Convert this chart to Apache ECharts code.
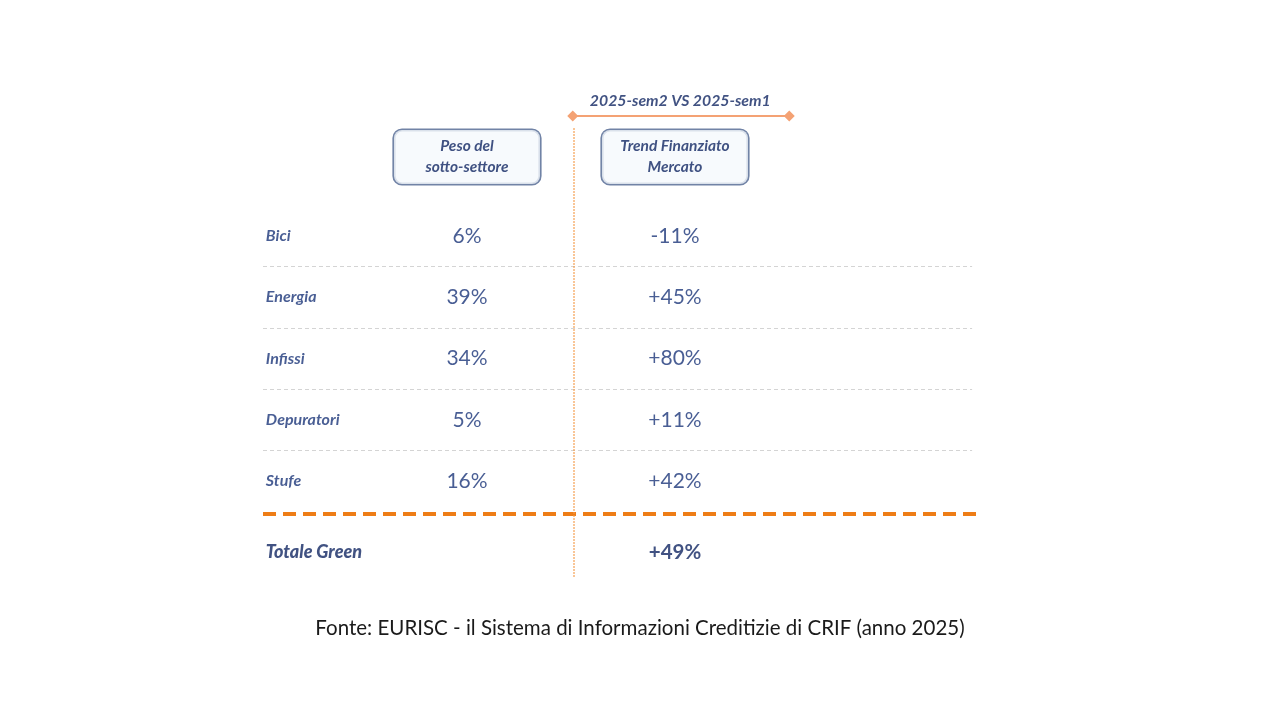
<!DOCTYPE html>
<html>
<head>
<meta charset="utf-8">
<script src="https://cdn.jsdelivr.net/npm/echarts@6/dist/echarts.min.js"></script>
<style>
  html, body { margin: 0; padding: 0; background: #fff; }
  #main { width: 1280px; height: 720px; }
</style>
</head>
<body>
<div id="main"></div>
<script>
// dati della tabella
var sectors = ['Bici', 'Energia', 'Infissi', 'Depuratori', 'Stufe'];
var peso = [6, 39, 34, 5, 16];
var trend = [-11, 45, 80, 11, 42];
var totalLabel = 'Totale Green';
var totalTrend = 49;
var headers = ['Peso del\nsotto-settore', 'Trend Finanziato\nMercato'];
var compareLabel = '2025-sem2 VS 2025-sem1';
var sourceText = 'Fonte: EURISC - il Sistema di Informazioni Creditizie di CRIF (anno 2025)';

// colonne (in % della griglia) e righe speciali
var colLabel = 0.4, colPeso = 28.45, colTrend = 57.46, colDivider = 43.37;
var rowHeader = -1.29, rowCompare = -2.2, rowBracket = -1.96, rowTotal = 5.16, rowOrange = 4.54;

var navy = '#1c3679';
var darkNavy = '#122763';
var font = 'Lato';

function pct(v) { return v + '%'; }
function signed(v) { return (v > 0 ? '+' : '') + v + '%'; }

var myChart = echarts.init(document.getElementById('main'));

var sepLines = [];
for (var i = 0; i < sectors.length - 1; i++) {
    sepLines.push([{ coord: [0, i + 0.5] }, { coord: [98.9, i + 0.5] }]);
}

var option = {
    animation: false,
    title: {
        text: sourceText,
        left: 'center',
        top: 613,
        textStyle: { fontFamily: font, fontSize: 20.5, fontWeight: 'normal', color: '#1a1a1a' }
    },
    grid: { left: 263, right: 300, top: 52.25, bottom: 116.5 },
    xAxis: { type: 'value', min: 0, max: 100, show: false },
    yAxis: { type: 'value', min: -3, max: 6, inverse: true, show: false },
    series: [{
        // linee decorative
        type: 'scatter',
        data: [],
        silent: true,
        markLine: {
            silent: true,
            symbol: 'none',
            label: { show: false },
            data: sepLines.map(function (d) {
                return [Object.assign({}, d[0], { lineStyle: { color: '#d4d4d4', width: 1.2, type: [4, 3] } }), d[1]];
            }).concat([
                [{ coord: [0, rowOrange], lineStyle: { color: '#ee7d16', width: 4, type: [13, 7] } }, { coord: [100, rowOrange] }],
                [{ coord: [colDivider, -1.76], lineStyle: { color: '#f49a48', width: 1.5, type: 'dotted' } }, { coord: [colDivider, 5.58] }]
            ])
        }
    }, {
        type: 'scatter',
        data: [],
        silent: true,
        markLine: {
            silent: true,
            symbol: ['diamond', 'diamond'],
            symbolSize: 11,
            label: { show: false },
            lineStyle: { color: '#f4a274', width: 2, type: 'solid' },
            itemStyle: { color: '#f08a5a' },
            data: [[{ coord: [43.2, rowBracket] }, { coord: [73.4, rowBracket] }]]
        }
    }, {
        // etichette settori
        type: 'scatter',
        symbolSize: 0,
        silent: true,
        data: sectors.map(function (s, i) { return [colLabel, i, s]; }),
        label: {
            show: true, position: 'right', distance: 0,
            formatter: function (p) { return p.value[2]; },
            fontFamily: font, fontStyle: 'italic', fontWeight: 'bold', fontSize: 16, color: navy
        }
    }, {
        type: 'scatter',
        symbolSize: 0,
        silent: true,
        data: peso.map(function (v, i) { return [colPeso, i, v]; }),
        label: {
            show: true, position: 'inside',
            formatter: function (p) { return pct(p.value[2]); },
            fontFamily: font, fontSize: 21, color: navy
        }
    }, {
        type: 'scatter',
        symbolSize: 0,
        silent: true,
        data: trend.map(function (v, i) { return [colTrend, i, v]; }),
        label: {
            show: true, position: 'inside',
            formatter: function (p) { return signed(p.value[2]); },
            fontFamily: font, fontSize: 21, color: navy
        }
    }, {
        // riga totale
        type: 'scatter',
        symbolSize: 0,
        silent: true,
        data: [[colLabel, rowTotal, totalLabel]],
        label: {
            show: true, position: 'right', distance: 0,
            formatter: function (p) { return p.value[2]; },
            fontFamily: font, fontStyle: 'italic', fontWeight: 900, fontSize: 18, color: darkNavy
        }
    }, {
        type: 'scatter',
        symbolSize: 0,
        silent: true,
        data: [[colTrend, rowTotal, totalTrend]],
        label: {
            show: true, position: 'inside',
            formatter: function (p) { return signed(p.value[2]); },
            fontFamily: font, fontWeight: 'bold', fontSize: 20.5, color: darkNavy
        }
    }, {
        // intestazioni
        type: 'scatter',
        symbolSize: 0,
        silent: true,
        clip: false,
        data: [[colPeso, rowHeader, headers[0]], [colTrend, rowHeader, headers[1]]],
        label: {
            show: true, position: 'inside',
            formatter: function (p) { return p.value[2]; },
            fontFamily: font, fontStyle: 'italic', fontWeight: 'bold', fontSize: 15.5, color: darkNavy,
            lineHeight: 21, width: 122, align: 'center',
            padding: [6, 12], backgroundColor: '#f5f9fd',
            borderColor: '#4d6490', borderWidth: 1.6, borderRadius: 8
        }
    }, {
        type: 'scatter',
        symbolSize: 0,
        silent: true,
        clip: false,
        data: [[58.2, rowCompare, compareLabel]],
        label: {
            show: true, position: 'inside',
            formatter: function (p) { return p.value[2]; },
            fontFamily: font, fontStyle: 'italic', fontWeight: 'bold', fontSize: 15.8, color: darkNavy
        }
    }]
};

myChart.setOption(option);
</script>
</body>
</html>
